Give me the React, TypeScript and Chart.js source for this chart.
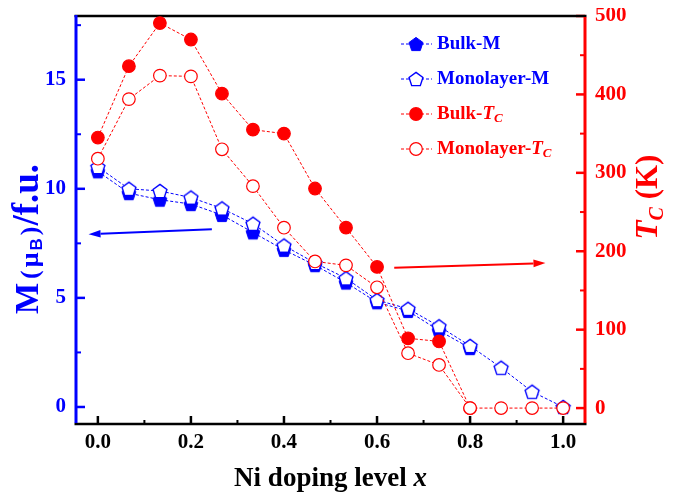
import React, { useEffect, useRef } from "react";
import { Chart, registerables } from "chart.js";

Chart.register(...registerables);

// ---------------- data ----------------
const dopingLevels = [0, 0.0667, 0.1333, 0.2, 0.2667, 0.3333, 0.4, 0.4667, 0.5333, 0.6, 0.6667, 0.7333, 0.8, 0.8667, 0.9333, 1.0];
const bulkM = [10.8, 9.8, 9.5, 9.3, 8.8, 8.0, 7.2, 6.5, 5.7, 4.8, 4.4, 3.5, 2.7];
const monolayerM = [11.0, 10.0, 9.9, 9.6, 9.1, 8.4, 7.4, 6.6, 5.9, 4.9, 4.5, 3.7, 2.8, 1.8, 0.7, 0.0];
const bulkTc = [345, 436, 491, 470, 401, 355, 350, 280, 230, 180, 89, 85, 0];
const monolayerTc = [318, 394, 424, 423, 330, 283, 230, 187, 182, 154, 70, 55, 0, 0, 0, 0];

const xTickValues = [0, 0.2, 0.4, 0.6, 0.8, 1.0];
const xMinorTicks = [0.1, 0.3, 0.5, 0.7, 0.9];
const mTickValues = [0, 5, 10, 15];
const mMinorTicks = [2.5, 7.5, 12.5, 17.5];
const tcTickValues = [0, 100, 200, 300, 400, 500];
const tcMinorTicks = [50, 150, 250, 350, 450];

// arrow annotations (data coordinates)
const arrowMFrom = [0.245, 8.15];
const arrowMTo = [-0.02, 7.92];
const arrowTcFrom = [0.637, 179];
const arrowTcTo = [0.962, 185];

// ---------------- styling ----------------
const W = 667;
const H = 484;
const BLUE = "#0000ff";
const RED = "#ff0000";
const SERIF = "'Liberation Serif', 'Times New Roman', serif";
const SANS = "'Liberation Sans', Arial, sans-serif";

function makePentagon(filled: boolean): HTMLCanvasElement {
  const size = 18;
  const c = document.createElement("canvas");
  c.width = size;
  c.height = size;
  const g = c.getContext("2d")!;
  const r = 7.3;
  const cx = size / 2;
  const cy = size / 2 + 0.7;
  g.beginPath();
  for (let i = 0; i < 5; i++) {
    const a = -Math.PI / 2 + (i * 2 * Math.PI) / 5;
    const px = cx + r * Math.cos(a);
    const py = cy + r * Math.sin(a);
    if (i === 0) g.moveTo(px, py);
    else g.lineTo(px, py);
  }
  g.closePath();
  if (filled) {
    g.fillStyle = BLUE;
    g.fill();
    g.strokeStyle = BLUE;
    g.lineWidth = 1;
    g.stroke();
  } else {
    g.fillStyle = "#ffffff";
    g.fill();
    g.strokeStyle = BLUE;
    g.lineWidth = 1.4;
    g.stroke();
  }
  return c;
}

type Run = { text: string; font: string; dy?: number; gap?: number };

function runsWidth(ctx: CanvasRenderingContext2D, runs: Run[]) {
  let w = 0;
  for (const r of runs) {
    ctx.font = r.font;
    w += ctx.measureText(r.text).width + (r.gap || 0);
  }
  return w;
}

function drawRuns(ctx: CanvasRenderingContext2D, runs: Run[], x: number, y: number, align: "left" | "center", color: string) {
  const w = runsWidth(ctx, runs);
  let cx = align === "center" ? x - w / 2 : x;
  ctx.fillStyle = color;
  ctx.textAlign = "left";
  for (const r of runs) {
    ctx.font = r.font;
    ctx.fillText(r.text, cx, y + (r.dy || 0));
    cx += ctx.measureText(r.text).width + (r.gap || 0);
  }
}

function drawArrow(ctx: CanvasRenderingContext2D, x1: number, y1: number, x2: number, y2: number, color: string) {
  const ang = Math.atan2(y2 - y1, x2 - x1);
  const hl = 12;
  const hw = 3.8;
  const bx = x2 - hl * Math.cos(ang);
  const by = y2 - hl * Math.sin(ang);
  ctx.strokeStyle = color;
  ctx.fillStyle = color;
  ctx.lineWidth = 2;
  ctx.setLineDash([]);
  ctx.beginPath();
  ctx.moveTo(x1, y1);
  ctx.lineTo(bx, by);
  ctx.stroke();
  ctx.beginPath();
  ctx.moveTo(x2, y2);
  ctx.lineTo(bx + hw * Math.sin(ang), by - hw * Math.cos(ang));
  ctx.lineTo(bx - hw * Math.sin(ang), by + hw * Math.cos(ang));
  ctx.closePath();
  ctx.fill();
}

export default function App() {
  const ref = useRef<HTMLCanvasElement>(null);

  useEffect(() => {
    const canvas = ref.current!;
    const filledPent = makePentagon(true);
    const openPent = makePentagon(false);

    const line = (ctx: CanvasRenderingContext2D, x1: number, y1: number, x2: number, y2: number) => {
      ctx.beginPath();
      ctx.moveTo(x1, y1);
      ctx.lineTo(x2, y2);
      ctx.stroke();
    };

    const zeroPad = (s: any) => {
      s.paddingTop = 0;
      s.paddingBottom = 0;
      s.paddingLeft = 0;
      s.paddingRight = 0;
    };

    const decor = {
      id: "decor",
      beforeDatasetsDraw(chart: any) {
        const ctx: CanvasRenderingContext2D = chart.ctx;
        const { left, right, top, bottom } = chart.chartArea;
        const sx = chart.scales.x;
        const sm = chart.scales.yM;
        const st = chart.scales.yT;
        ctx.save();
        ctx.setLineDash([]);
        ctx.lineCap = "butt";
        // bottom ticks
        ctx.strokeStyle = "#000";
        ctx.lineWidth = 2.5;
        for (const v of xTickValues) {
          const p = sx.getPixelForValue(v);
          line(ctx, p, bottom, p, bottom - 8);
        }
        ctx.lineWidth = 2;
        for (const v of xMinorTicks) {
          const p = sx.getPixelForValue(v);
          line(ctx, p, bottom, p, bottom - 4);
        }
        // left ticks
        ctx.strokeStyle = BLUE;
        ctx.lineWidth = 2.5;
        for (const v of mTickValues) {
          const p = sm.getPixelForValue(v);
          line(ctx, left, p, left + 9, p);
        }
        ctx.lineWidth = 2;
        for (const v of mMinorTicks) {
          const p = sm.getPixelForValue(v);
          line(ctx, left, p, left + 5, p);
        }
        // right ticks
        ctx.strokeStyle = RED;
        ctx.lineWidth = 2.5;
        for (const v of tcTickValues) {
          const p = st.getPixelForValue(v);
          line(ctx, right, p, right - 9, p);
        }
        ctx.lineWidth = 2;
        for (const v of tcMinorTicks) {
          const p = st.getPixelForValue(v);
          line(ctx, right, p, right - 5, p);
        }
        // frame
        ctx.strokeStyle = "#000";
        ctx.lineWidth = 2.5;
        line(ctx, left - 1.5, top, right + 1.5, top);
        line(ctx, left - 1.5, bottom, right + 1.5, bottom);
        ctx.lineWidth = 3;
        ctx.strokeStyle = BLUE;
        line(ctx, left, top - 1, left, bottom - 1);
        ctx.strokeStyle = RED;
        line(ctx, right, top + 1, right, bottom - 1);
        ctx.restore();
      },
      afterDatasetsDraw(chart: any) {
        const ctx: CanvasRenderingContext2D = chart.ctx;
        const sx = chart.scales.x;
        const sm = chart.scales.yM;
        const st = chart.scales.yT;
        ctx.save();
        drawArrow(ctx, sx.getPixelForValue(arrowMFrom[0]), sm.getPixelForValue(arrowMFrom[1]), sx.getPixelForValue(arrowMTo[0]), sm.getPixelForValue(arrowMTo[1]), BLUE);
        drawArrow(ctx, sx.getPixelForValue(arrowTcFrom[0]), st.getPixelForValue(arrowTcFrom[1]), sx.getPixelForValue(arrowTcTo[0]), st.getPixelForValue(arrowTcTo[1]), RED);
        ctx.restore();
      },
      afterDraw(chart: any) {
        const ctx: CanvasRenderingContext2D = chart.ctx;
        const { left, right } = chart.chartArea;
        ctx.save();
        ctx.textBaseline = "alphabetic";
        // x title
        drawRuns(
          ctx,
          [
            { text: "Ni doping level ", font: `bold 27px ${SERIF}` },
            { text: "x", font: `italic bold 27px ${SERIF}` },
          ],
          (left + right) / 2,
          478,
          "center",
          "#000"
        );
        // left title
        ctx.save();
        ctx.translate(30, 231);
        ctx.rotate(-Math.PI / 2);
        drawRuns(
          ctx,
          [
            { text: "M", font: `bold 33px ${SERIF}`, gap: 4 },
            { text: "(", font: `bold 26px ${SERIF}`, gap: 3 },
            { text: "\u03bc", font: `bold 26px ${SERIF}`, gap: 2 },
            { text: "B", font: `bold 17px ${SANS}`, dy: 4, gap: 3 },
            { text: ")", font: `bold 26px ${SERIF}`, gap: 1 },
            { text: "/f.u.", font: `bold 37px ${SERIF}` },
          ],
          0,
          0,
          "center",
          BLUE
        );
        ctx.restore();
        // right title
        ctx.save();
        ctx.translate(649, 189);
        ctx.rotate(-Math.PI / 2);
        drawRuns(
          ctx,
          [
            { text: "T", font: `italic bold 31px ${SERIF}` },
            { text: "C", font: `italic bold 20px ${SERIF}`, dy: 6 },
            { text: " (K)", font: `bold 31px ${SERIF}` },
          ],
          0,
          0,
          "center",
          RED
        );
        ctx.restore();

        // legend
        const rows = [
          { color: BLUE, marker: "fpent", runs: [{ text: "Bulk-M", font: `bold 19px ${SERIF}` }] },
          { color: BLUE, marker: "opent", runs: [{ text: "Monolayer-M", font: `bold 19px ${SERIF}` }] },
          {
            color: RED,
            marker: "fcirc",
            runs: [
              { text: "Bulk-", font: `bold 19px ${SERIF}` },
              { text: "T", font: `italic bold 19px ${SERIF}` },
              { text: "C", font: `italic bold 13px ${SERIF}`, dy: 5 },
            ],
          },
          {
            color: RED,
            marker: "ocirc",
            runs: [
              { text: "Monolayer-", font: `bold 19px ${SERIF}` },
              { text: "T", font: `italic bold 19px ${SERIF}` },
              { text: "C", font: `italic bold 13px ${SERIF}`, dy: 5 },
            ],
          },
        ];
        ctx.textBaseline = "middle";
        rows.forEach((row, i) => {
          const y = 36 + i * 35;
          const mx = 408;
          ctx.strokeStyle = row.color;
          ctx.lineWidth = 1;
          ctx.setLineDash([3, 2]);
          line(ctx, 393, y, 424, y);
          ctx.setLineDash([]);
          if (row.marker === "fpent") ctx.drawImage(filledPent, mx - filledPent.width / 2, y - filledPent.height / 2);
          else if (row.marker === "opent") ctx.drawImage(openPent, mx - openPent.width / 2, y - openPent.height / 2);
          else {
            ctx.beginPath();
            ctx.arc(mx, y, 6.3, 0, Math.PI * 2);
            ctx.fillStyle = row.marker === "fcirc" ? RED : "#fff";
            ctx.fill();
            ctx.lineWidth = 1.2;
            ctx.strokeStyle = RED;
            ctx.stroke();
          }
          drawRuns(ctx, row.runs, 429, y, "left", row.color);
        });
        ctx.restore();
      },
    };

    const tickFont = { family: SERIF, size: 21, weight: "bold" as const };

    const chart = new Chart(canvas, {
      type: "line",
      data: {
        datasets: [
          {
            label: "Bulk-M",
            yAxisID: "yM",
            data: bulkM.map((v, i) => ({ x: dopingLevels[i], y: v })),
            borderColor: BLUE,
            borderWidth: 1,
            borderDash: [3, 2],
            pointStyle: filledPent as any,
            pointRadius: 7,
            pointHoverRadius: 7,
            pointBackgroundColor: BLUE,
            pointBorderColor: BLUE,
            fill: false,
            tension: 0,
            order: 4,
          },
          {
            label: "Monolayer-M",
            yAxisID: "yM",
            data: monolayerM.map((v, i) => ({ x: dopingLevels[i], y: v })),
            borderColor: BLUE,
            borderWidth: 1,
            borderDash: [3, 2],
            pointStyle: openPent as any,
            pointRadius: 7,
            pointHoverRadius: 7,
            pointBackgroundColor: "#fff",
            pointBorderColor: BLUE,
            fill: false,
            tension: 0,
            order: 3,
          },
          {
            label: "Bulk-Tc",
            yAxisID: "yT",
            data: bulkTc.map((v, i) => ({ x: dopingLevels[i], y: v })),
            borderColor: RED,
            borderWidth: 1,
            borderDash: [3, 2],
            pointStyle: "circle",
            pointRadius: 6.3,
            pointHoverRadius: 6.3,
            pointBorderWidth: 1.2,
            pointBackgroundColor: RED,
            pointBorderColor: RED,
            fill: false,
            tension: 0,
            order: 2,
          },
          {
            label: "Monolayer-Tc",
            yAxisID: "yT",
            data: monolayerTc.map((v, i) => ({ x: dopingLevels[i], y: v })),
            borderColor: RED,
            borderWidth: 1,
            borderDash: [3, 2],
            pointStyle: "circle",
            pointRadius: 6.3,
            pointHoverRadius: 6.3,
            pointBorderWidth: 1.2,
            pointBackgroundColor: "#fff",
            pointBorderColor: RED,
            fill: false,
            tension: 0,
            order: 1,
          },
        ],
      },
      options: {
        animation: false,
        responsive: false,
        maintainAspectRatio: false,
        layout: { padding: { top: 6, left: 0, right: 0, bottom: 0 } },
        plugins: { legend: { display: false }, tooltip: { enabled: false } },
        events: [],
        scales: {
          x: {
            type: "linear",
            min: -0.047,
            max: 1.047,
            afterBuildTicks: (s: any) => {
              s.ticks = xTickValues.map((v) => ({ value: v }));
            },
            afterFit: (s: any) => {
              s.height = 68;
              zeroPad(s);
            },
            grid: { display: false, drawTicks: false },
            border: { display: false },
            ticks: {
              color: "#000",
              font: tickFont,
              padding: 6,
              maxRotation: 0,
              autoSkip: false,
              callback: (v: any) => Number(v).toFixed(1),
            },
          },
          yM: {
            type: "linear",
            position: "left",
            min: -0.78,
            max: 17.92,
            afterBuildTicks: (s: any) => {
              s.ticks = mTickValues.map((v) => ({ value: v }));
            },
            afterFit: (s: any) => {
              s.width = 68;
              zeroPad(s);
            },
            grid: { display: false, drawTicks: false },
            border: { display: false },
            ticks: {
              color: BLUE,
              font: tickFont,
              padding: 10,
              autoSkip: false,
              callback: (v: any) => String(v),
            },
          },
          yT: {
            type: "linear",
            position: "right",
            min: -20.3,
            max: 500,
            afterBuildTicks: (s: any) => {
              s.ticks = tcTickValues.map((v) => ({ value: v }));
            },
            afterFit: (s: any) => {
              s.width = 90;
              zeroPad(s);
            },
            grid: { display: false, drawTicks: false },
            border: { display: false },
            ticks: {
              color: RED,
              font: tickFont,
              padding: 10,
              autoSkip: false,
              callback: (v: any) => String(v),
            },
          },
        },
      },
      plugins: [decor],
    });

    return () => chart.destroy();
  }, []);

  return (
    <div style={{ width: W, height: H }}>
      <canvas ref={ref} width={W} height={H} style={{ display: "block", width: W, height: H }} />
    </div>
  );
}
